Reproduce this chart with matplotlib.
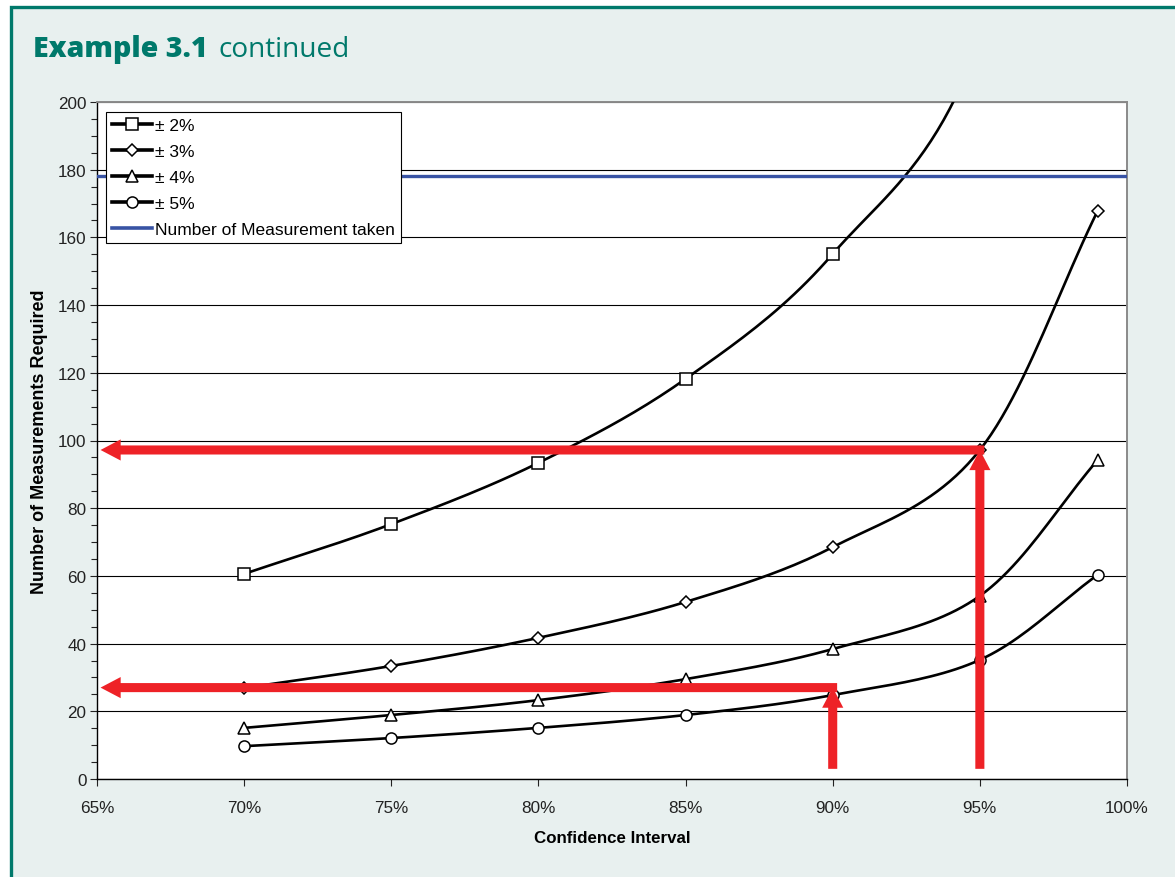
import numpy as np
import matplotlib
matplotlib.use("Agg")
import matplotlib.pyplot as plt
from matplotlib.lines import Line2D
from matplotlib.patches import Rectangle
from matplotlib.ticker import MultipleLocator, PercentFormatter

# Confidence levels and required sample sizes for each precision band
confidence = [0.70, 0.75, 0.80, 0.85, 0.90, 0.95, 0.99]
n_2pct = [60.6, 75.3, 93.4, 118.2, 155.1, 218.7, 377.6]
n_3pct = [26.9, 33.4, 41.7, 52.3, 68.5, 97.2, 167.8]
n_4pct = [15.1, 18.9, 23.3, 29.5, 38.4, 54.1, 94.2]
n_5pct = [9.7, 12.1, 15.1, 18.9, 24.8, 35.2, 60.3]
series_labels = ["± 2%", "± 3%", "± 4%", "± 5%"]
series_markers = ["s", "D", "^", "o"]

measurements_taken = 178

# Reading guides: (confidence, required n)
guide_conf = [0.95, 0.90]
guide_n = [97.2, 27.0]

TEAL = "#00796b"
BG = "#e8f0ef"
RED = "#ee2227"
BLUE = "#3853a4"

plt.rcParams["font.family"] = ["Liberation Sans", "DejaVu Sans"]


def smooth(ax, xs, ys, steps=24):
    """Catmull-Rom curve through the points, computed in display space."""
    pts = ax.transData.transform(np.column_stack([xs, ys]))
    p = np.vstack([pts[0] - (pts[1] - pts[0]), pts, pts[-1] + (pts[-1] - pts[-2])])
    out = []
    t = np.linspace(0, 1, steps)[:, None]
    for i in range(1, len(p) - 2):
        p0, p1, p2, p3 = p[i - 1], p[i], p[i + 1], p[i + 2]
        seg = 0.5 * ((2 * p1) + (-p0 + p2) * t + (2 * p0 - 5 * p1 + 4 * p2 - p3) * t ** 2
                     + (-p0 + 3 * p1 - 3 * p2 + p3) * t ** 3)
        out.append(seg if i == 1 else seg[1:])
    out = np.vstack(out)
    return ax.transData.inverted().transform(out).T


fig = plt.figure(figsize=(11.75, 8.78), dpi=100, facecolor="white")
fig.add_artist(Rectangle((11 / 1175, -0.05), 1.2, 870 / 878 + 0.05, transform=fig.transFigure,
                         facecolor=BG, edgecolor=TEAL, linewidth=2.4, zorder=-10))

t1 = fig.text(33 / 1175, 1 - 57 / 878, "Example 3.1", fontsize=20.5, fontweight=800,
              color=TEAL, family=["Open Sans", "DejaVu Sans"], va="baseline")
fig.canvas.draw()
bb = t1.get_window_extent(fig.canvas.get_renderer())
fig.text((bb.x1 + 11) / 1175, 1 - 57 / 878, "continued", fontsize=20.2, color=TEAL,
         family=["Open Sans", "DejaVu Sans"], va="baseline")

ax = fig.add_axes([97 / 1175, 1 - 780 / 878, 1030 / 1175, 677 / 878])
ax.set_facecolor("white")
ax.set_xlim(0.65, 1.00)
ax.set_ylim(0, 200)

for ys, lab, mk in zip([n_2pct, n_3pct, n_4pct, n_5pct], series_labels, series_markers):
    sx, sy = smooth(ax, confidence, ys)
    ax.plot(sx, sy, color="black", lw=1.9, zorder=3)
    ms = 6.5 if mk == "D" else 8
    ax.plot(confidence, ys, ls="none", marker=mk, ms=ms, mfc="white", mec="black",
            mew=1.1, zorder=4)

ax.axhline(measurements_taken, color=BLUE, lw=2.4, zorder=3)

arrow_kw = dict(arrowstyle="simple,head_length=1.0,head_width=1.05,tail_width=0.45",
                color=RED, mutation_scale=14.5, shrinkA=0, shrinkB=0, lw=0)
for gx, gy in zip(guide_conf, guide_n):
    ax.annotate("", xy=(0.6512, gy), xytext=(gx + 0.0015, gy), arrowprops=arrow_kw, zorder=6)
    ax.annotate("", xy=(gx, gy), xytext=(gx, 3), arrowprops=arrow_kw, zorder=6)

# Legend proxies
handles = [Line2D([], [], color="black", lw=2.6, marker=mk, ms=(6.5 if mk == "D" else 8),
                  mfc="white", mec="black", mew=1.1)
           for mk in series_markers]
handles.append(Line2D([], [], color=BLUE, lw=2.6))
leg = ax.legend(handles, series_labels + ["Number of Measurement taken"],
                loc="upper left", bbox_to_anchor=(9 / 1030, 1 - 10 / 677), borderaxespad=0,
                fontsize=12.5, frameon=True, fancybox=False, framealpha=1, edgecolor="black",
                handlelength=2.3, handletextpad=0.15, labelspacing=0.62, borderpad=0.35)
leg.get_frame().set_linewidth(0.8)
leg.set_zorder(7)

ax.yaxis.set_major_locator(MultipleLocator(20))
ax.yaxis.set_minor_locator(MultipleLocator(5))
ax.xaxis.set_major_locator(MultipleLocator(0.05))
ax.xaxis.set_major_formatter(PercentFormatter(1.0, decimals=0))
ax.grid(axis="y", which="major", color="black", lw=0.8, zorder=1)
ax.set_axisbelow(True)
ax.tick_params(axis="both", which="major", direction="out", length=5, width=0.8,
               labelsize=12.3, colors="#222222")
ax.tick_params(axis="x", pad=10)
ax.tick_params(axis="y", pad=2.5)
ax.tick_params(axis="y", which="minor", direction="out", length=4, width=0.8, colors="#222222")

for side in ("top", "right"):
    ax.spines[side].set_color("#8a8a8a")
    ax.spines[side].set_linewidth(1.4)
for side in ("left", "bottom"):
    ax.spines[side].set_color("black")
    ax.spines[side].set_linewidth(1.0)

ax.set_xlabel("Confidence Interval", fontsize=12.2, fontweight="bold", labelpad=11)
ax.set_ylabel("Number of Measurements Required", fontsize=13, fontweight="bold", labelpad=7)

fig.savefig("out.png", dpi=100, facecolor=fig.get_facecolor())
